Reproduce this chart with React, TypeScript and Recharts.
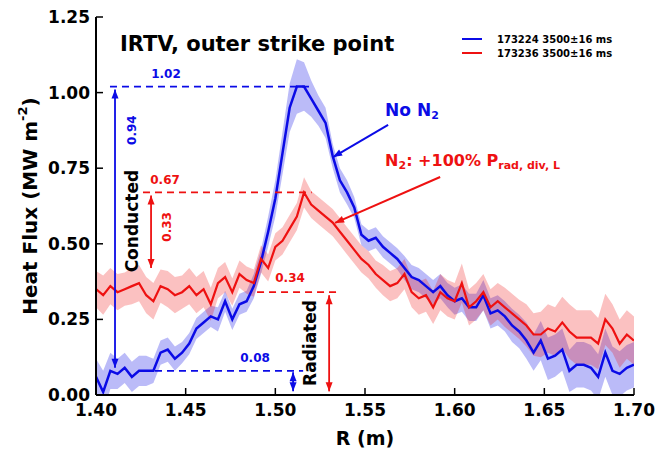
import React from "react";
import {
  ComposedChart,
  Area,
  Line,
  XAxis,
  YAxis,
  ReferenceLine,
  ReferenceDot,
  Legend,
  Label,
} from "recharts";

document.body.style.margin = "0";

// R grid (m)
const rValues = [
  1.400, 1.404, 1.408, 1.412, 1.416, 1.420, 1.424, 1.428, 1.432, 1.436,
  1.440, 1.444, 1.448, 1.452, 1.456, 1.460, 1.464, 1.468, 1.472, 1.476,
  1.480, 1.484, 1.488, 1.492, 1.496, 1.500, 1.504, 1.508, 1.512, 1.516,
  1.520, 1.524, 1.528, 1.532, 1.536, 1.540, 1.544, 1.548, 1.552, 1.556,
  1.560, 1.564, 1.568, 1.572, 1.576, 1.580, 1.584, 1.588, 1.592, 1.596,
  1.600, 1.604, 1.608, 1.612, 1.616, 1.620, 1.624, 1.628, 1.632, 1.636,
  1.640, 1.644, 1.648, 1.652, 1.656, 1.660, 1.664, 1.668, 1.672, 1.676,
  1.680, 1.684, 1.688, 1.692, 1.696, 1.700,
];

// 173224 (no N2)
const shot173224 = [
  0.06, 0.01, 0.08, 0.07, 0.09, 0.06, 0.08, 0.08, 0.08, 0.14,
  0.15, 0.12, 0.14, 0.17, 0.22, 0.24, 0.26, 0.25, 0.31, 0.25,
  0.30, 0.31, 0.36, 0.44, 0.54, 0.65, 0.80, 0.95, 1.02, 1.02,
  0.98, 0.94, 0.90, 0.79, 0.71, 0.67, 0.62, 0.53, 0.51, 0.52,
  0.49, 0.47, 0.45, 0.42, 0.39, 0.38, 0.36, 0.34, 0.36, 0.33,
  0.31, 0.32, 0.29, 0.29, 0.33, 0.27, 0.28, 0.26, 0.23, 0.21,
  0.18, 0.14, 0.18, 0.12, 0.13, 0.15, 0.08, 0.10, 0.10, 0.09,
  0.06, 0.14, 0.08, 0.07, 0.09, 0.10,
];
const spread173224 = [
  0.06, 0.07, 0.06, 0.05, 0.05, 0.05, 0.05, 0.05, 0.04, 0.04,
  0.04, 0.04, 0.035, 0.035, 0.035, 0.035, 0.035, 0.04, 0.035, 0.035,
  0.035, 0.035, 0.04, 0.04, 0.05, 0.06, 0.07, 0.08, 0.09, 0.08,
  0.06, 0.05, 0.05, 0.04, 0.04, 0.04, 0.035, 0.035, 0.035, 0.035,
  0.035, 0.035, 0.035, 0.04, 0.04, 0.04, 0.04, 0.04, 0.04, 0.04,
  0.045, 0.045, 0.045, 0.045, 0.05, 0.05, 0.05, 0.05, 0.055, 0.055,
  0.06, 0.06, 0.065, 0.07, 0.07, 0.07, 0.07, 0.075, 0.075, 0.075,
  0.075, 0.08, 0.08, 0.075, 0.075, 0.075,
];

// 173236 (N2 seeded)
const shot173236 = [
  0.35, 0.33, 0.36, 0.34, 0.35, 0.36, 0.37, 0.33, 0.31, 0.36,
  0.35, 0.33, 0.34, 0.36, 0.33, 0.35, 0.30, 0.37, 0.39, 0.34,
  0.40, 0.38, 0.37, 0.45, 0.42, 0.49, 0.51, 0.55, 0.59, 0.67,
  0.63, 0.61, 0.59, 0.57, 0.54, 0.51, 0.48, 0.45, 0.43, 0.40,
  0.38, 0.36, 0.37, 0.40, 0.34, 0.32, 0.33, 0.29, 0.34, 0.32,
  0.31, 0.37, 0.29, 0.31, 0.34, 0.29, 0.31, 0.29, 0.27, 0.25,
  0.23, 0.20, 0.20, 0.22, 0.21, 0.24, 0.21, 0.19, 0.19, 0.19,
  0.17, 0.25, 0.22, 0.17, 0.20, 0.18,
];
const spread173236 = [
  0.06, 0.065, 0.06, 0.06, 0.055, 0.06, 0.06, 0.06, 0.06, 0.055,
  0.06, 0.06, 0.055, 0.06, 0.06, 0.06, 0.055, 0.05, 0.05, 0.045,
  0.045, 0.045, 0.045, 0.045, 0.045, 0.045, 0.045, 0.045, 0.045, 0.05,
  0.045, 0.045, 0.045, 0.045, 0.045, 0.045, 0.045, 0.045, 0.045, 0.045,
  0.05, 0.05, 0.05, 0.05, 0.05, 0.055, 0.055, 0.055, 0.06, 0.06,
  0.06, 0.065, 0.06, 0.06, 0.06, 0.06, 0.06, 0.065, 0.065, 0.065,
  0.07, 0.07, 0.075, 0.08, 0.08, 0.085, 0.09, 0.09, 0.09, 0.09,
  0.085, 0.085, 0.08, 0.08, 0.08, 0.08,
];

const xTicks = [1.4, 1.45, 1.5, 1.55, 1.6, 1.65, 1.7];
const yTicks = [0, 0.25, 0.5, 0.75, 1.0, 1.25];
const seriesNames = ["173224 3500±16 ms", "173236 3500±16 ms"];

const BLUE = "#0b0be6";
const RED = "#ee1111";
const FONT = "'DejaVu Sans', sans-serif";

const data = rValues.map((r, i) => ({
  r,
  blue: shot173224[i],
  red: shot173236[i],
  blueBand: [shot173224[i] - spread173224[i], shot173224[i] + spread173224[i]],
  redBand: [shot173236[i] - spread173236[i], shot173236[i] + spread173236[i]],
}));

function arrowShape(color: string, width: number, both: boolean) {
  return (p: any) => {
    const { x1, y1, x2, y2 } = p;
    const head = (tx: number, ty: number, fx: number, fy: number) => {
      const a = Math.atan2(ty - fy, tx - fx);
      const len = 9;
      const w = 3.5;
      const bx = tx - len * Math.cos(a);
      const by = ty - len * Math.sin(a);
      const px = -Math.sin(a) * w;
      const py = Math.cos(a) * w;
      return (
        <polygon
          points={`${tx},${ty} ${bx + px},${by + py} ${bx - px},${by - py}`}
          fill={color}
        />
      );
    };
    return (
      <g>
        <line x1={x1} y1={y1} x2={x2} y2={y2} stroke={color} strokeWidth={width} />
        {head(x2, y2, x1, y1)}
        {both && head(x1, y1, x2, y2)}
      </g>
    );
  };
}

function textShape(
  content: React.ReactNode,
  color: string,
  size: number,
  rotate = false,
  anchor = "middle"
) {
  return (p: any) => (
    <text
      x={p.cx}
      y={p.cy}
      fill={color}
      fontSize={size}
      fontWeight="bold"
      fontFamily={FONT}
      textAnchor={anchor}
      dominantBaseline="central"
      transform={rotate ? `rotate(-90 ${p.cx} ${p.cy})` : undefined}
    >
      {content}
    </text>
  );
}

function YLabel(props: any) {
  const vb = props.viewBox || { x: 36, y: 17, width: 60, height: 378 };
  const cx = vb.x - 6;
  const cy = vb.y + vb.height / 2;
  return (
    <text
      x={cx}
      y={cy}
      transform={`rotate(-90 ${cx} ${cy})`}
      textAnchor="middle"
      dominantBaseline="central"
      fontSize={20}
      fontWeight="bold"
      fontFamily={FONT}
      fill="#000"
    >
      Heat Flux (MW m
      <tspan dy={-8} fontSize={13}>-2</tspan>
      <tspan dy={8}>)</tspan>
    </text>
  );
}

function XLabel(props: any) {
  const vb = props.viewBox || { x: 96, y: 395, width: 538, height: 40 };
  return (
    <text
      x={vb.x + vb.width / 2}
      y={vb.y + 50}
      textAnchor="middle"
      fontSize={19}
      fontWeight="bold"
      fontFamily={FONT}
      fill="#000"
    >
      R (m)
    </text>
  );
}

function LegendBox() {
  const colors = [BLUE, RED];
  return (
    <div style={{ fontFamily: FONT, fontWeight: "bold", fontSize: 10 }}>
      {seriesNames.map((name, i) => (
        <div key={name} style={{ display: "flex", alignItems: "center", height: 14 }}>
          <span
            style={{
              display: "inline-block",
              width: 20,
              height: 2.5,
              background: colors[i],
              marginRight: 15,
            }}
          />
          <span>{name}</span>
        </div>
      ))}
    </div>
  );
}

const emptyTick = () => <g />;
const tickStyle = { fill: "#000", fontSize: 17, fontWeight: "bold", fontFamily: FONT };
const frame = { stroke: "#000", strokeWidth: 2 };
const tickLine = { stroke: "#000", strokeWidth: 1.5 };

export default function App() {
  return (
    <div style={{ position: "relative", width: 670, height: 454, background: "#fff" }}>
      <ComposedChart
        width={670}
        height={454}
        data={data}
        margin={{ top: 17, right: 36, bottom: 19, left: 36 }}
      >
        <XAxis
          dataKey="r"
          type="number"
          domain={[1.4, 1.7]}
          ticks={xTicks}
          interval={0}
          allowDataOverflow
          tickFormatter={(v: number) => v.toFixed(2)}
          tick={tickStyle}
          tickSize={-7}
          tickMargin={16}
          height={40}
          axisLine={frame}
          tickLine={tickLine}
        >
          <Label content={<XLabel />} />
        </XAxis>
        <XAxis
          xAxisId="top"
          orientation="top"
          dataKey="r"
          type="number"
          domain={[1.4, 1.7]}
          ticks={xTicks}
          interval={0}
          tick={emptyTick}
          tickSize={-7}
          height={0}
          axisLine={frame}
          tickLine={tickLine}
        />
        <YAxis
          type="number"
          domain={[0, 1.25]}
          ticks={yTicks}
          interval={0}
          allowDataOverflow
          tickFormatter={(v: number) => v.toFixed(2)}
          tick={tickStyle}
          tickSize={-7}
          tickMargin={13}
          width={60}
          axisLine={frame}
          tickLine={tickLine}
        >
          <Label content={<YLabel />} />
        </YAxis>
        <YAxis
          yAxisId="right"
          orientation="right"
          type="number"
          domain={[0, 1.25]}
          ticks={yTicks}
          interval={0}
          tick={emptyTick}
          tickSize={-7}
          width={0}
          axisLine={frame}
          tickLine={tickLine}
        />
        <Legend
          layout="vertical"
          align="center"
          verticalAlign="middle"
          wrapperStyle={{ left: 462, top: 32, width: 200 }}
          content={<LegendBox />}
        />

        <Area
          dataKey="blueBand"
          stroke="none"
          fill={BLUE}
          fillOpacity={0.28}
          isAnimationActive={false}
          activeDot={false}
        />
        <Area
          dataKey="redBand"
          stroke="none"
          fill={RED}
          fillOpacity={0.26}
          isAnimationActive={false}
          activeDot={false}
        />
        <Line
          dataKey="blue"
          stroke={BLUE}
          strokeWidth={2.5}
          dot={false}
          isAnimationActive={false}
        />
        <Line
          dataKey="red"
          stroke={RED}
          strokeWidth={2.2}
          dot={false}
          isAnimationActive={false}
        />

        {/* peak / background markers */}
        <ReferenceLine
          segment={[{ x: 1.4078, y: 1.02 }, { x: 1.5194, y: 1.02 }]}
          stroke={BLUE}
          strokeWidth={1.8}
          strokeDasharray="7 5"
        />
        <ReferenceLine
          segment={[{ x: 1.4262, y: 0.08 }, { x: 1.5155, y: 0.08 }]}
          stroke={BLUE}
          strokeWidth={1.8}
          strokeDasharray="7 5"
        />
        <ReferenceLine
          segment={[{ x: 1.4262, y: 0.67 }, { x: 1.5203, y: 0.67 }]}
          stroke={RED}
          strokeWidth={1.8}
          strokeDasharray="7 5"
        />
        <ReferenceLine
          segment={[{ x: 1.4898, y: 0.34 }, { x: 1.535, y: 0.34 }]}
          stroke={RED}
          strokeWidth={1.8}
          strokeDasharray="7 5"
        />

        {/* arrows */}
        <ReferenceLine
          segment={[{ x: 1.4106, y: 1.01 }, { x: 1.4106, y: 0.09 }]}
          shape={arrowShape(BLUE, 1.8, true)}
        />
        <ReferenceLine
          segment={[{ x: 1.5099, y: 0.075 }, { x: 1.5099, y: 0.012 }]}
          shape={arrowShape(BLUE, 1.8, true)}
        />
        <ReferenceLine
          segment={[{ x: 1.4307, y: 0.66 }, { x: 1.4307, y: 0.42 }]}
          shape={arrowShape(RED, 1.8, true)}
        />
        <ReferenceLine
          segment={[{ x: 1.53, y: 0.33 }, { x: 1.53, y: 0.012 }]}
          shape={arrowShape(RED, 1.8, true)}
        />
        <ReferenceLine
          segment={[{ x: 1.5629, y: 0.893 }, { x: 1.5322, y: 0.787 }]}
          shape={arrowShape(BLUE, 2, false)}
        />
        <ReferenceLine
          segment={[{ x: 1.5919, y: 0.721 }, { x: 1.5333, y: 0.569 }]}
          shape={arrowShape(RED, 2, false)}
        />

        {/* labels */}
        <ReferenceDot x={1.439} y={1.061} shape={textShape("1.02", BLUE, 12)} />
        <ReferenceDot x={1.42} y={0.876} shape={textShape("0.94", BLUE, 12, true)} />
        <ReferenceDot x={1.4385} y={0.711} shape={textShape("0.67", RED, 12)} />
        <ReferenceDot x={1.4396} y={0.556} shape={textShape("0.33", RED, 12, true)} />
        <ReferenceDot x={1.4201} y={0.575} shape={textShape("Conducted", "#000", 17, true)} />
        <ReferenceDot x={1.5082} y={0.387} shape={textShape("0.34", RED, 12)} />
        <ReferenceDot x={1.4887} y={0.122} shape={textShape("0.08", BLUE, 12)} />
        <ReferenceDot x={1.5194} y={0.172} shape={textShape("Radiated", "#000", 17, true)} />
        <ReferenceDot
          x={1.5612}
          y={0.942}
          shape={textShape(
            <>
              No N<tspan dy={5} fontSize={11}>2</tspan>
            </>,
            BLUE,
            17,
            false,
            "start"
          )}
        />
        <ReferenceDot
          x={1.5612}
          y={0.777}
          shape={textShape(
            <>
              N<tspan dy={5} fontSize={11}>2</tspan>
              <tspan dy={-5}>: +100% P</tspan>
              <tspan dy={5} fontSize={11}>rad, div, L</tspan>
            </>,
            RED,
            16,
            false,
            "start"
          )}
        />
      </ComposedChart>
      <div
        style={{
          position: "absolute",
          left: 120,
          top: 34,
          fontFamily: FONT,
          fontWeight: "bold",
          fontSize: 21,
          lineHeight: 1,
          color: "#000",
          whiteSpace: "nowrap",
        }}
      >
        IRTV, outer strike point
      </div>
    </div>
  );
}
